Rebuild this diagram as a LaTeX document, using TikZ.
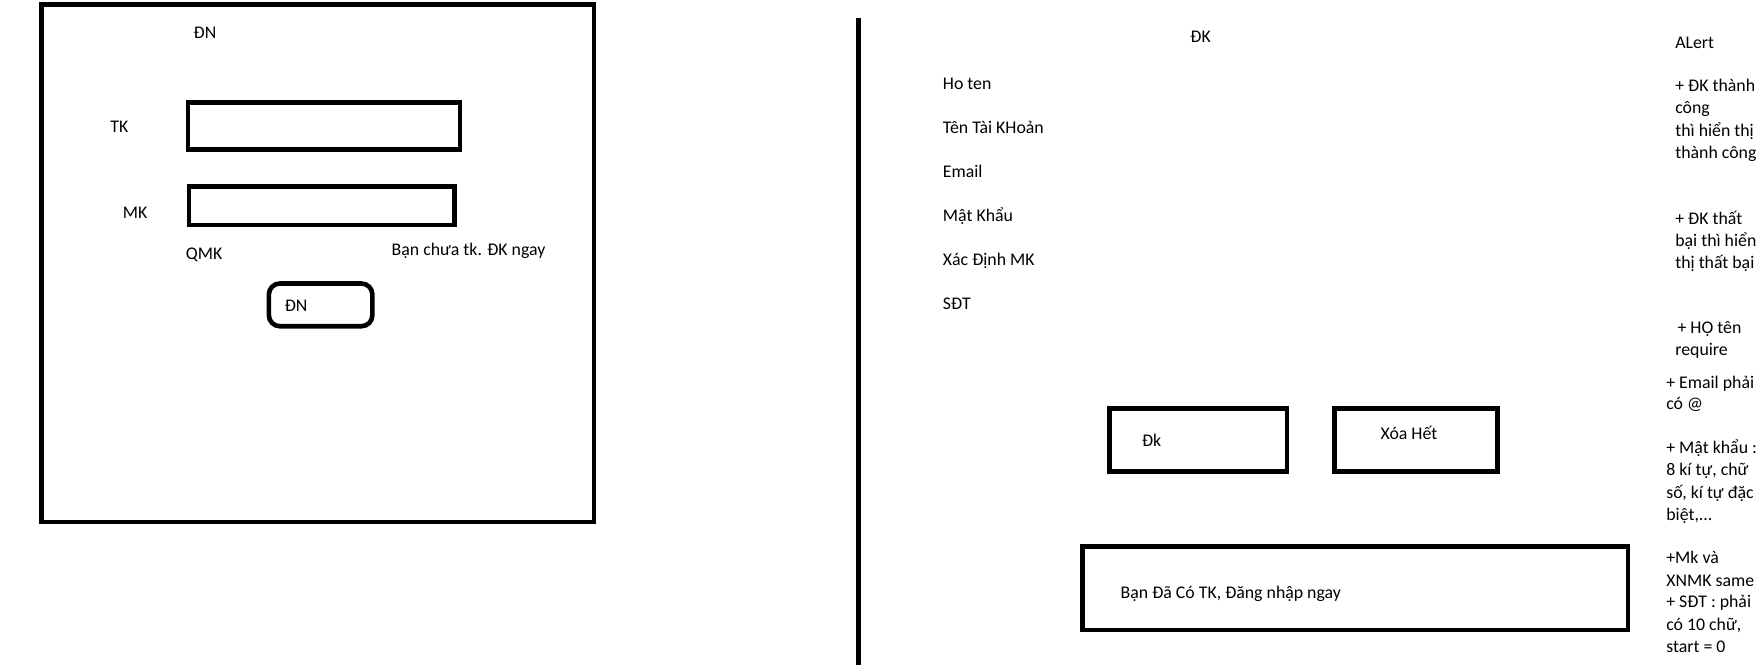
\documentclass[tikz,border=0pt]{standalone}
\usepackage{fontspec}
\setmainfont{Carlito}
\usetikzlibrary{fit}
\begin{document}
\begin{tikzpicture}[x=1.125pt,y=-1.125pt,
  every node/.style={font=\fontsize{17.8pt}{22pt}\selectfont, inner sep=0pt, anchor=base west},
  thick line/.style={line width=4.6pt},
  box/.style={draw, thick line, inner sep=0pt, outer sep=0pt}]
\useasboundingbox[fill=white] (0,0) rectangle (1568,591.11);

% ---------- Left: login screen ----------
\node[box, fit={(37,4) (528,464)}] (loginframe) {};
\node (dntitle) at (172,34) {ĐN};
\node (tklabel) at (98,118) {TK};
\node[box, fit={(167,91) (409,133)}] (tkbox) {};
\node (mklabel) at (109,194) {MK};
\node[box, fit={(168,166) (404,200)}] (mkbox) {};
\node (qmk) at (165,231) {QMK};
\node (chuatk) at (348,227) {Bạn chưa tk. ĐK ngay};
\node[box, rounded corners=11pt, fit={(239,252) (331,290)}] (dnbtn) {};
\node (dnbtntext) at (253,277) {ĐN};

% ---------- Divider ----------
\coordinate (divtop) at (763,16);
\coordinate (divbot) at (763,592);
\draw[thick line] (divtop) -- (divbot);

% ---------- Right: register screen ----------
\node (dktitle) at (1058,38) {ĐK};
\node (hoten) at (838,80) {Ho ten};
\node (tentk) at (838,119) {Tên Tài KHoản};
\node (email) at (838,158) {Email};
\node (matkhau) at (838,197) {Mật Khẩu};
\node (xacdinh) at (838,236) {Xác Định MK};
\node (sdt) at (838,275) {SĐT};

\node[box, fit={(986,363) (1144,419)}] (dkbox) {};
\node (dktext) at (1015,397) {Đk};
\node[box, fit={(1186,363) (1331,419)}] (xoabox) {};
\node (xoatext) at (1227,391) {Xóa Hết};
\node[box, fit={(962,486) (1447,560)}] (loginbox) {};
\node (logintext) at (996,532) {Bạn Đã Có TK, Đăng nhập ngay};

% ---------- Alert notes ----------
\foreach \t/\x/\y [count=\i] in {
  ALert/1489/43,
  {+ ĐK thành}/1489/81,
  công/1489/101,
  {thì hiển thị}/1489/121,
  {thành công}/1489/141,
  {+ ĐK thất}/1489/200,
  {bại thì hiển}/1489/219,
  {thị thất bại}/1489/239,
  {+ HỌ tên}/1491/296,
  require/1489/316,
  {+ Email phải}/1481/345,
  {có @}/1481/364,
  {+ Mật khẩu :}/1481/403,
  {8 kí tự, chữ}/1481/423,
  {số, kí tự đặc}/1481/443,
  {biệt,...}/1481/463,
  {+Mk và}/1481/501,
  {XNMK same}/1481/521,
  {+ SĐT : phải}/1481/540,
  {có 10 chữ,}/1481/560,
  {start = 0}/1481/580}
  \node (note\i) at (\x,\y) {\t};
\end{tikzpicture}
\end{document}
